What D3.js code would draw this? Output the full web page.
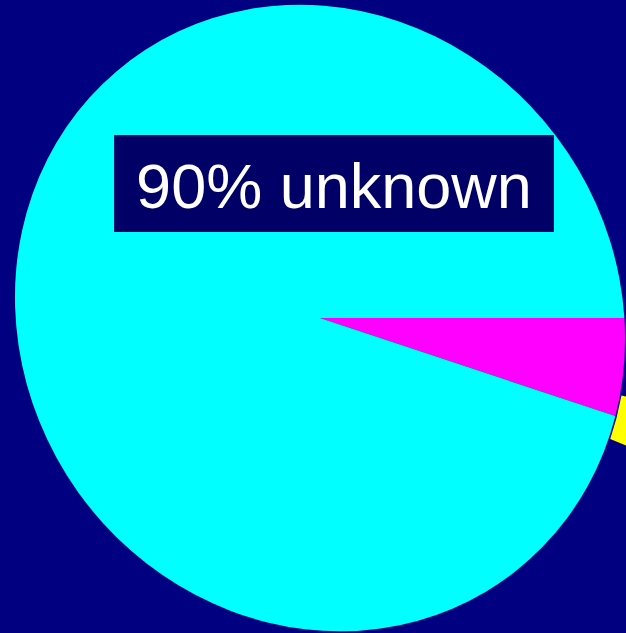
<!DOCTYPE html>
<html>
<head>
<meta charset="utf-8">
<script src="https://cdn.jsdelivr.net/npm/d3@7"></script>
<style>
  html, body { margin: 0; padding: 0; background: #000080; overflow: hidden; }
  svg { display: block; }
</style>
</head>
<body>
<svg id="chart" width="626" height="633"></svg>
<script>
// Shares drawn as pie slices (percent)
const categories = ["known", "unknown"];
const shares = [4.8, 90];
const colors = ["#ff00ff", "#00ffff"];

// Small flagged share shown as a tab poking out past the rim
const flagCategory = ["flagged"];
const flagShare = [2.2];
const flagColor = "#ffff00";

// Caption
const captionValue = shares[1];
const captionLabel = categories[1];

const width = 626, height = 633;
const cx = 320, cy = 318, R = 309;

const svg = d3.select("#chart");
svg.append("rect").attr("width", width).attr("height", height).attr("fill", "#000080");

// Slightly oval pie, stretched along a steep diagonal
const g = svg.append("g")
  .attr("transform", `translate(${cx},${cy}) rotate(56) scale(1.0356,0.9644) rotate(-56)`);

const startAngle = (88.14 / 180) * Math.PI;
const total = d3.sum(shares);
const pie = d3.pie().sort(null).value(d => d)
  .startAngle(startAngle).endAngle(startAngle + 2 * Math.PI);
const arcs = pie(shares);
const arc = d3.arc().innerRadius(0).outerRadius(R);

// Flag tab, drawn first so the pie covers its inner part
const perUnit = 2 * Math.PI / total;
const flagStart = arcs[0].endAngle - (4 / 180) * Math.PI;
const flagArc = d3.arc().innerRadius(R * 1.005).outerRadius(R * 1.25);
g.append("path")
  .attr("d", flagArc({ startAngle: flagStart, endAngle: flagStart + flagShare[0] * perUnit }))
  .attr("fill", flagColor);

g.selectAll("path.slice")
  .data(arcs)
  .join("path")
  .attr("class", "slice")
  .attr("d", arc)
  .attr("fill", (d, i) => colors[i]);

// Caption box
const label = svg.append("g");
const txt = label.append("text")
  .attr("x", 334)
  .attr("y", 208)
  .attr("text-anchor", "middle")
  .attr("font-family", "'Liberation Sans', Arial, Helvetica, sans-serif")
  .attr("font-size", 63)
  .attr("fill", "#ffffff")
  .text(`${captionValue}% ${captionLabel}`);
const bb = txt.node().getBBox();
label.insert("rect", "text")
  .attr("x", bb.x - 22)
  .attr("y", 135)
  .attr("width", bb.width + 44)
  .attr("height", 97)
  .attr("fill", "#000066");
</script>
</body>
</html>
